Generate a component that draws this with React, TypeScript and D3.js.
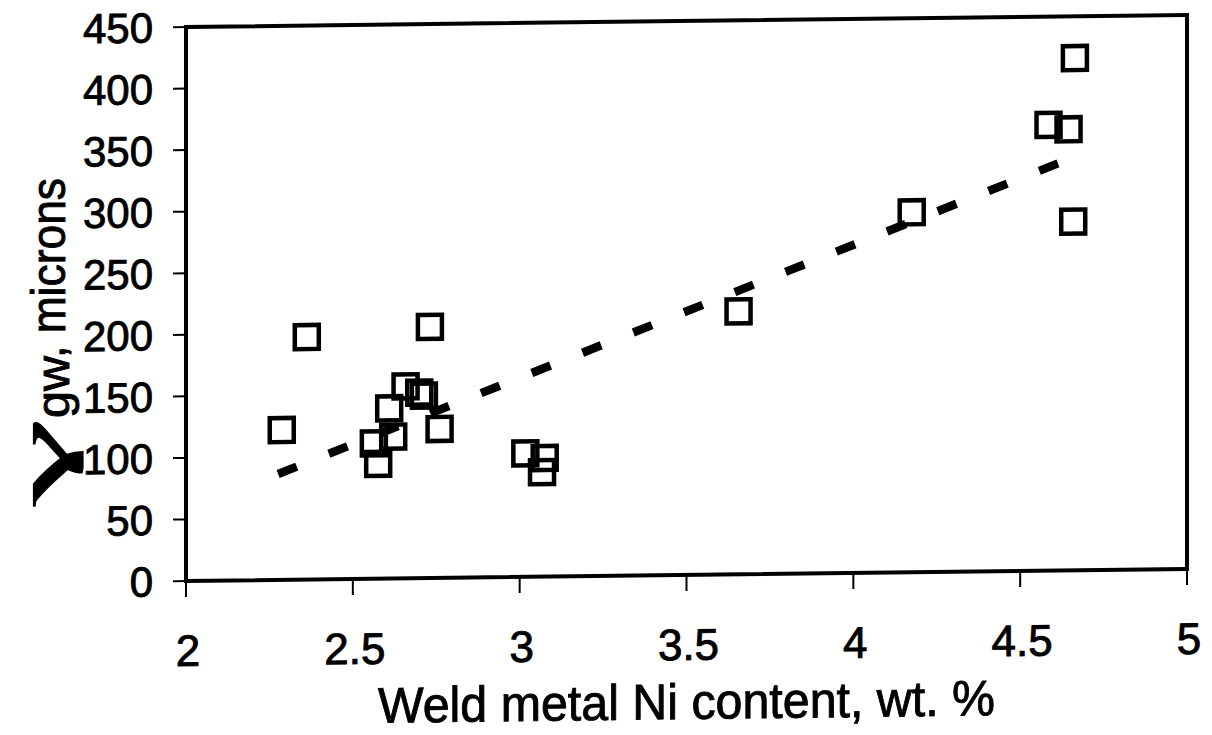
import React, { useEffect, useRef } from "react";
import * as d3 from "d3";

// Data
const niContent = [2.287, 2.362, 2.731, 2.658, 2.699, 2.713, 2.609, 2.760, 2.621, 2.563, 2.576, 3.017, 3.075, 3.067, 3.656, 4.175, 4.664, 4.585, 4.645, 4.659];
const grainSize = [121.7, 197, 204, 156, 150.7, 148.2, 138.3, 121, 115.2, 110, 93.2, 100.4, 96.4, 85, 213.6, 292.4, 416.1, 362, 358.3, 283.2];
const trendNi = [2.276, 4.664];
const trendGrain = [86, 336];
const xTicks = [2, 2.5, 3, 3.5, 4, 4.5, 5];
const yTicks = [0, 50, 100, 150, 200, 250, 300, 350, 400, 450];
const xTitle = "Weld metal Ni content, wt. %";

const W = 1212;
const H = 735;
const FONT = "'Liberation Sans', Arial, Helvetica, sans-serif";

export default function App() {
  const ref = useRef<SVGSVGElement | null>(null);

  useEffect(() => {
    const svg = d3.select(ref.current);
    svg.selectAll("*").remove();

    const left = 186, right = 1187, top = 27, bottom = 581;
    const x = d3.scaleLinear().domain([2, 5]).range([left, right]);
    const y = d3.scaleLinear().domain([0, 450]).range([bottom, top]);

    // whole scanned figure is slightly tilted
    const g = svg.append("g")
      .attr("transform", `translate(${left},0) skewY(-0.69) translate(${-left},0)`);

    // frame
    g.append("rect")
      .attr("x", left).attr("y", top)
      .attr("width", right - left).attr("height", bottom - top)
      .attr("fill", "none").attr("stroke", "#000").attr("stroke-width", 4);

    // y ticks
    g.selectAll(".yt").data(yTicks).enter().append("line")
      .attr("x1", left - 13).attr("x2", left)
      .attr("y1", d => y(d)).attr("y2", d => y(d))
      .attr("stroke", "#000").attr("stroke-width", 2);
    g.selectAll(".yl").data(yTicks).enter().append("text")
      .attr("x", 153).attr("y", d => y(d)).attr("dy", "0.36em")
      .attr("text-anchor", "end")
      .attr("font-family", FONT).attr("font-size", 42)
      .attr("stroke", "#000").attr("stroke-width", 0.9)
      .text(d => String(d));

    // x ticks
    g.selectAll(".xt").data(xTicks).enter().append("line")
      .attr("x1", d => x(d)).attr("x2", d => x(d))
      .attr("y1", bottom).attr("y2", bottom + 16)
      .attr("stroke", "#000").attr("stroke-width", 2);
    g.selectAll(".xl").data(xTicks).enter().append("text")
      .attr("x", d => x(d) + 2).attr("y", 666)
      .attr("text-anchor", "middle")
      .attr("font-family", FONT).attr("font-size", 44)
      .attr("stroke", "#000").attr("stroke-width", 0.9)
      .text(d => String(d));

    // x title
    g.append("text")
      .attr("x", 378).attr("y", 725)
      .attr("font-family", FONT).attr("font-size", 50)
      .attr("stroke", "#000").attr("stroke-width", 0.9)
      .attr("textLength", 617).attr("lengthAdjust", "spacingAndGlyphs")
      .text(xTitle);

    // y title (rotated)
    const yt = svg.append("g").attr("transform", "rotate(-90)");
    yt.append("text")
      .attr("x", -505).attr("y", 67)
      .attr("font-family", "'Liberation Serif', 'Times New Roman', serif")
      .attr("font-size", 74)
      .attr("stroke", "#000").attr("stroke-width", 1.2)
      .attr("textLength", 86).attr("lengthAdjust", "spacingAndGlyphs")
      .text("γ");
    yt.append("text")
      .attr("x", -418).attr("y", 69)
      .attr("font-family", FONT).attr("font-size", 46)
      .attr("stroke", "#000").attr("stroke-width", 0.9)
      .attr("textLength", 62).attr("lengthAdjust", "spacingAndGlyphs")
      .text("gw");
    yt.append("text")
      .attr("x", -358).attr("y", 65)
      .attr("font-family", FONT).attr("font-size", 48)
      .attr("stroke", "#000").attr("stroke-width", 0.9)
      .attr("textLength", 180).attr("lengthAdjust", "spacingAndGlyphs")
      .text(", microns");

    // trend line
    const line = d3.line<number>().x((d) => x(d)).y((_, i) => y(trendGrain[i]));
    g.append("path")
      .attr("d", line(trendNi))
      .attr("fill", "none").attr("stroke", "#000")
      .attr("stroke-width", 8.5)
      .attr("stroke-dasharray", "20 34.4");

    // markers
    const pts = niContent.map((v, i) => [v, grainSize[i]]);
    g.selectAll(".pt").data(pts).enter().append("rect")
      .attr("x", d => x(d[0]) - 12).attr("y", d => y(d[1]) - 12)
      .attr("width", 24).attr("height", 24)
      .attr("fill", "none").attr("stroke", "#000").attr("stroke-width", 4.5);
  }, []);

  return (
    <svg
      ref={ref}
      width={W}
      height={H}
      viewBox={`0 0 ${W} ${H}`}
      style={{ position: "absolute", left: 0, top: 0, display: "block", background: "#fff" }}
    />
  );
}
